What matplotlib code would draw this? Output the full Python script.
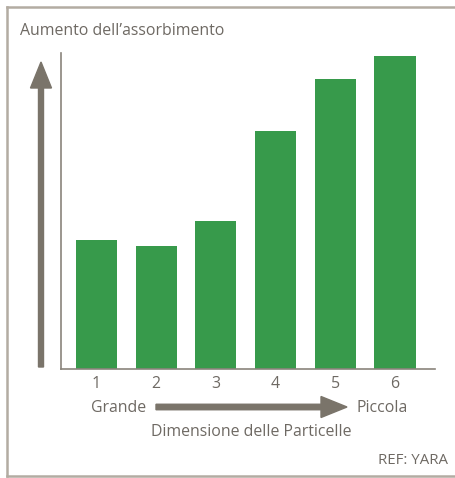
import matplotlib
matplotlib.use("Agg")
import matplotlib.pyplot as plt
from matplotlib.patches import FancyArrow
from matplotlib.lines import Line2D

categories = ["1", "2", "3", "4", "5", "6"]
values = [129, 123, 148, 238, 290, 313]
title = "Aumento dell\u2019assorbimento"
xlabel = "Dimensione delle Particelle"
left_label = "Grande"
right_label = "Piccola"
ref = "REF: YARA"

W, H = 455, 478
GREEN = "#379a4b"
TEXT = "#6e6963"
ARROW = "#7a746a"
FRAME = "#b3aca2"
SPINE = "#8a847c"

plt.rcParams['font.family'] = ['Open Sans', 'DejaVu Sans']
fs = 11.4

fig = plt.figure(figsize=(W/100, H/100), dpi=100)
fig.patch.set_facecolor("white")

def fx(px):
    return px / W

def fy(py):
    return 1 - py / H

ax = fig.add_axes([fx(61), fy(369), fx(435) - fx(61), fy(53) - fy(369)])
xs = list(range(1, len(categories) + 1))
ax.bar(xs, values, width=0.687, color=GREEN)
ax.set_xlim(0.405, 6.67)
ax.set_ylim(0, 316)
ax.set_xticks(xs)
ax.set_xticklabels(categories, fontsize=fs, color=TEXT)
ax.tick_params(axis='x', length=0, pad=5)
ax.set_yticks([])
for s in ["top", "right"]:
    ax.spines[s].set_visible(False)
for s in ["left", "bottom"]:
    ax.spines[s].set_color(SPINE)
    ax.spines[s].set_linewidth(1.2)

# frame
fig.add_artist(Line2D([fx(7), fx(7)], [fy(7), fy(476)], color=FRAME, lw=1.8, transform=fig.transFigure))
fig.add_artist(Line2D([fx(7), fx(455)], [fy(7), fy(7)], color=FRAME, lw=1.8, transform=fig.transFigure))
fig.add_artist(Line2D([fx(7), fx(455)], [fy(476), fy(476)], color=FRAME, lw=1.8, transform=fig.transFigure))

# arrows (in inches)
t = fig.dpi_scale_trans
fig.add_artist(FancyArrow(41/100, (H-367)/100, 0, (367-62)/100, width=0.05,
                          head_width=0.21, head_length=0.26, length_includes_head=True,
                          color=ARROW, transform=t))
fig.add_artist(FancyArrow(156/100, (H-407)/100, (347-156)/100, 0, width=0.055,
                          head_width=0.21, head_length=0.26, length_includes_head=True,
                          color=ARROW, transform=t))

fig.text(fx(20), fy(31), title, fontsize=fs, color=TEXT, ha='left', va='center')
fig.text(fx(118.5), fy(408), left_label, fontsize=fs, color=TEXT, ha='center', va='center')
fig.text(fx(382), fy(408), right_label, fontsize=fs, color=TEXT, ha='center', va='center')
fig.text(fx(251), fy(432), xlabel, fontsize=fs, color=TEXT, ha='center', va='center')
fig.text(fx(448), fy(460), ref, fontsize=10.8, color=TEXT, ha='right', va='center')

fig.savefig("out.png", dpi=100)
